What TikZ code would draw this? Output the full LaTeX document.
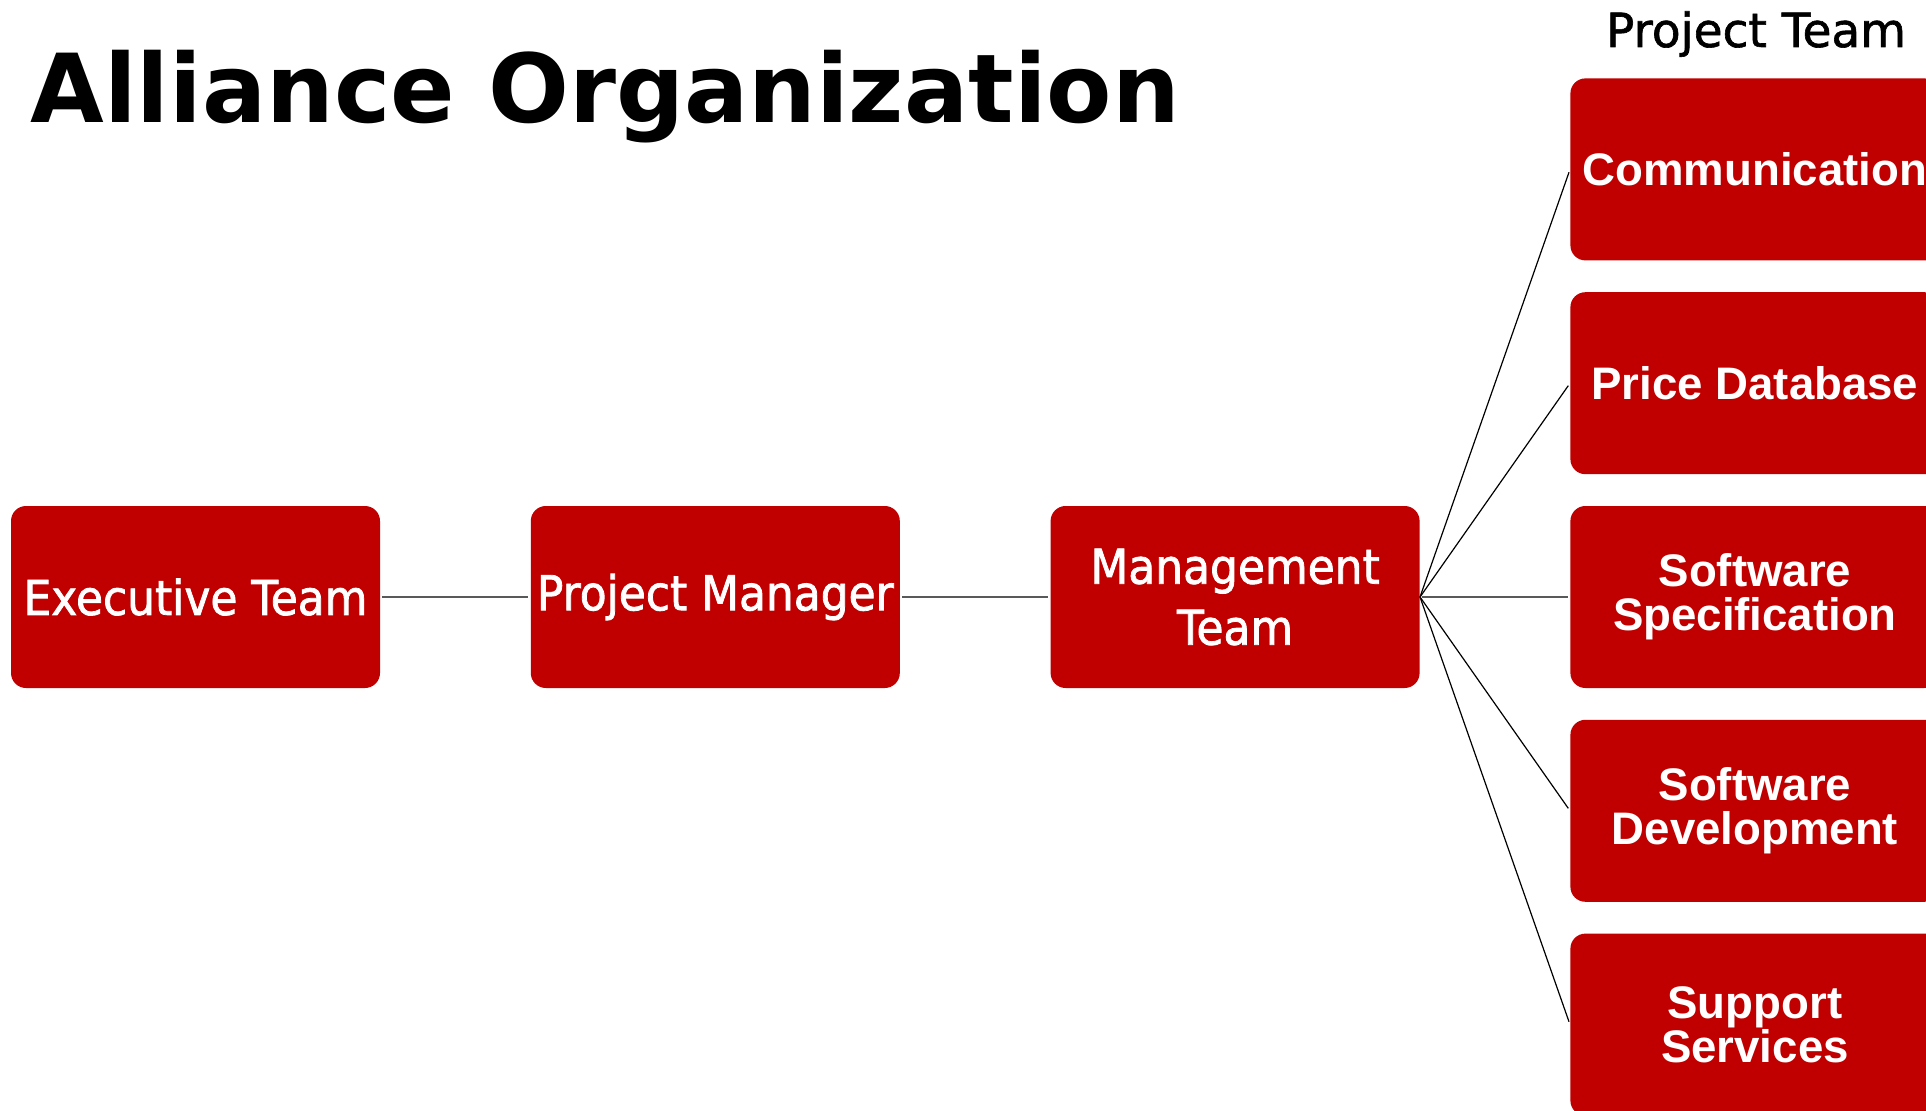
\documentclass[tikz,border=0pt]{standalone}
\usepackage{fontspec}
\setmainfont{DejaVu Sans}
\newfontfamily\boxfont[FakeStretch=0.915,FakeBold=1.6]{DejaVu Sans}
\newfontfamily\headfont[FakeBold=1.3]{DejaVu Sans}
\newfontfamily\teamfont{Liberation Sans}
\usetikzlibrary{positioning}
\definecolor{boxred}{HTML}{C00000}
\definecolor{linkgray}{HTML}{595959}
\begin{document}
\begin{tikzpicture}[x=0.5pt,y=0.5pt,
    boxsty/.style={minimum width=184.5pt,minimum height=91pt,inner xsep=2pt,
      fill=boxred,rounded corners=7.5pt,text=white,align=center,
      font=\boxfont\fontsize{24}{30.5}\selectfont},
    teamsty/.style={boxsty,font=\teamfont\bfseries\fontsize{22.8}{22}\selectfont},
    linksty/.style={color=linkgray,line width=1pt,shorten <=1pt,shorten >=1pt},
    fansty/.style={color=black,line width=0.6pt,shorten >=1.5pt}]
    \clip (0,0) rectangle (1926,1110);
    \fill[white] (0,0) rectangle (1926,1110);
    % titulo
    \node[anchor=base west,inner sep=0pt,font=\bfseries\fontsize{47.6}{58}\selectfont]
    (title) at (30,987) {Alliance Organization};
    % cadeia de gestao
    \node[boxsty] (exec) at (195.5,513) {Executive Team};
    \node[boxsty,right=75pt of exec] (pm) {Project Manager};
    \node[boxsty,right=75pt of pm] (mgmt) {Management\\Team};
    % equipe do projeto
    \node[teamsty,right=75pt of mgmt] (spec) {Software\\Specification};
    \node[teamsty,above=15.5pt of spec] (price) {Price Database};
    \node[teamsty,above=15.5pt of price] (comm) {Communication};
    \node[teamsty,below=15.5pt of spec] (dev) {Software\\Development};
    \node[teamsty,below=15.5pt of dev] (supp) {Support\\Services};
    \node[anchor=base,inner sep=0pt,font=\headfont\fontsize{23.5}{28}\selectfont]
    (ptitle) at (1756,1063) {Project Team};
    \draw[linksty] (exec.east) -- (pm.west);
    \draw[linksty] (pm.east) -- (mgmt.west);
    \draw[linksty] (mgmt.east) -- (spec.west);
    \draw[fansty] (mgmt.east) -- (comm.west);
    \draw[fansty] (mgmt.east) -- (price.west);
    \draw[fansty] (mgmt.east) -- (dev.west);
    \draw[fansty] (mgmt.east) -- (supp.west);
  \end{tikzpicture}
\end{document}
